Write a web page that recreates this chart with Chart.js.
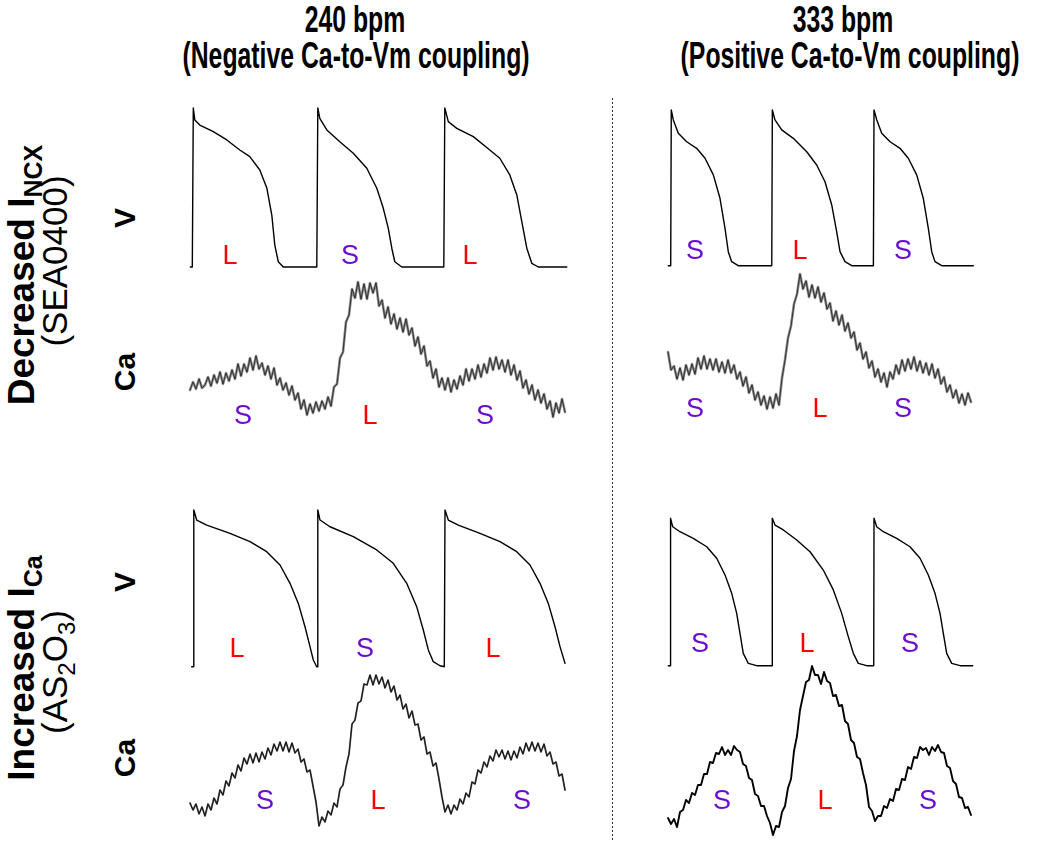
<!DOCTYPE html>
<html><head><meta charset="utf-8">
<script src="https://cdn.jsdelivr.net/npm/chart.js@4.4.1/dist/chart.umd.min.js"></script>
<style>
html,body{margin:0;padding:0;background:#fff;}
#fig{position:relative;width:1050px;height:841px;overflow:hidden;background:#fff;font-family:"Liberation Sans",Arial,Helvetica,sans-serif;color:#000;}
canvas{position:absolute;}
.t{position:absolute;white-space:nowrap;line-height:1;}
.title{font-weight:bold;font-size:37px;}
.row{font-weight:bold;font-size:37px;}
.row sub{font-size:25px;vertical-align:-8px;line-height:0;}
.rowsub{font-size:35px;}
.rowsub sub{font-size:24px;vertical-align:-8px;line-height:0;}
.axl{font-weight:bold;font-size:30px;}
.beat{font-size:27px;}
#sep{position:absolute;left:612px;top:98px;width:1px;height:743px;background-image:linear-gradient(#333 50%,rgba(0,0,0,0) 50%);background-size:1px 4px;}
</style></head><body><div id="fig"><div id="sep"></div></div>
<script>
// ---------------- DATA ----------------
// Membrane potential, [time (ms), % of AP amplitude]
const vTopLeft = [[-4,0],[0,0],[2,100],[5,92.5],[15,89.3],[42,85.1],[69,79.9],[95,73.6],[115,69.4],[135,61.0],[149,49.7],[159,32.7],[165,13.8],[172,3.3],[182,0],[249,0],[251,100],[255,93.5],[269,86.2],[295,78.8],[322,71.5],[349,62.1],[369,49.5],[382,36.9],[392,24.3],[399,11.8],[405,3.3],[419,0],[503,0],[505,100],[512,91.4],[529,87.2],[562,82.0],[595,73.6],[615,68.4],[635,57.9],[649,45.3],[659,28.5],[669,11.8],[679,2.3],[692,0],[749,0]];
const vTopRight = [[-4.3,0],[0,0],[1,100],[4.6,93.6],[13.5,85.0],[28.3,79.6],[46.0,75.4],[60.8,69.0],[75.5,58.3],[87.3,43.3],[96.2,24.0],[102,9.0],[108,2.6],[119.7,0],[179,0],[180,100],[184.7,93.6],[196.6,87.2],[217.2,81.8],[240.9,73.2],[258.6,64.7],[273.3,53.9],[285.2,39.0],[294.0,21.8],[299.9,9.0],[308.7,2.6],[320.6,0],[359,0],[360.1,100],[365.0,93.6],[373.7,85.0],[388.5,79.6],[406.2,75.4],[420.8,69.0],[435.7,58.3],[447.4,43.3],[456.3,24.0],[462.3,9.0],[468.1,2.6],[480.0,0],[536,0]];
const vBottomLeft = [[-3.2,0],[0,0],[1,100],[6.8,93.6],[26.8,90.4],[73.4,85.1],[113.4,79.8],[146.8,73.4],[173.4,64.9],[193.4,53.2],[210,40.4],[223.4,25.5],[233.4,12.8],[240,4.3],[246.8,0],[248,0],[249,100],[253.4,93.6],[273.4,89.3],[320,83.0],[366.8,74.5],[400,66.0],[426.8,53.2],[446.8,38.3],[460,23.4],[470,10.7],[480,3.2],[493.4,0.6],[502,0],[503.4,100],[510,93.6],[530,90.4],[573.4,85.1],[613.4,79.8],[646.8,73.4],[673.4,64.9],[693.4,53.2],[710,40.4],[723.4,25.5],[733.4,12.8],[743.4,2.2]];
const vBottomRight = [[-3,0],[0,0],[1,100],[4.8,94.3],[17.6,90.9],[41.1,86.4],[64.8,80.7],[82.4,72.9],[97.1,61.5],[108.9,49.1],[117.7,35.5],[123.5,22.0],[129.3,8.4],[138.2,1.6],[153.0,0],[180,0],[180.5,100],[185.3,95.4],[200,92.1],[223.6,85.3],[247.1,77.3],[270.5,64.9],[288.2,51.4],[303,35.5],[314.6,19.7],[323.5,8.4],[332.3,1.6],[347.1,0],[359.5,0],[360,100],[364.7,94.3],[376.4,90.9],[400,86.4],[423.5,80.7],[441.2,72.9],[455.8,61.5],[467.6,49.1],[476.5,35.5],[482.3,22.0],[488.3,8.4],[497.1,1.6],[511.8,0],[534.1,0]];

// Calcium fluorescence (a.u.), uniformly sampled
const caStartLeft = -4.6, caStepLeft = 6;      // ms (240 bpm recordings)
const caStartRight = -4.78, caStepRight = 5.3135; // ms (333 bpm recordings)
const caTopLeft = [40,48,41,51,42,45,53,44,55,47,58,46,57,49,60,51,66,54,66,58,72,60,74,61,67,55,64,51,62,45,52,40,47,35,44,30,37,21,30,15,26,17,28,19,29,21,33,24,43,46,72,78,108,115,141,132,148,131,146,131,147,137,147,124,130,112,123,106,116,101,112,98,111,95,102,84,93,76,84,64,69,52,61,43,52,40,52,38,50,41,54,45,61,49,61,51,65,53,66,57,72,60,73,61,70,58,70,55,65,50,59,42,50,36,45,30,40,27,36,21,29,13,27,17,31,18];
const caTopRight = [78,60,64,51,62,50,65,55,66,56,72,61,74,61,71,60,71,58,68,57,70,57,65,51,58,44,53,37,45,30,38,25,34,21,33,22,36,25,52,70,92,104,126,136,156,141,149,133,145,132,143,128,137,121,127,109,119,105,115,99,107,92,98,80,87,71,78,62,69,53,61,48,57,43,58,51,65,56,70,59,71,61,73,59,69,57,67,55,66,52,61,46,53,38,45,32,40,27,36,25,37,28];
const caBottomLeft = [37,30,36,26,33,24,36,30,42,36,50,45,59,54,67,62,75,69,82,76,86,77,87,78,88,81,92,85,96,89,98,89,98,88,97,87,91,78,81,68,70,54,38,14,23,18,29,25,37,33,51,55,73,86,116,120,137,139,156,155,165,155,165,156,163,152,160,148,154,140,145,131,136,122,129,115,116,100,103,86,88,74,77,61,43,28,35,26,35,30,41,36,47,43,58,56,70,67,78,73,84,79,90,83,90,81,89,80,89,82,93,86,97,89,98,89,97,88,96,84,88,76,78,64,66,50];
const caBottomRight = [22,16,21,13,28,30,40,37,47,45,55,55,66,66,78,77,87,86,93,85,90,85,94,90,88,76,74,62,60,46,44,34,34,24,17,5,14,13,28,34,52,61,89,104,130,144,158,160,174,165,165,156,168,159,157,144,145,134,135,119,116,100,97,83,81,67,55,33,29,19,24,24,34,32,41,39,51,50,61,60,73,71,83,82,93,90,92,85,93,89,95,88,87,74,72,59,56,43,42,32,33,25];

// Beat labels (long / short)
const beatsTopLeftV = ['L','S','L'];
const beatsTopLeftCa = ['S','L','S'];
const beatsTopRightV = ['S','L','S'];
const beatsTopRightCa = ['S','L','S'];
const beatsBottomLeftV = ['L','S','L'];
const beatsBottomLeftCa = ['S','L','S'];
const beatsBottomRightV = ['S','L','S'];
const beatsBottomRightCa = ['S','L','S'];

const colTitles = [['240 bpm','(Negative Ca-to-Vm coupling)'],['333 bpm','(Positive Ca-to-Vm coupling)']];

// ---------------- LAYOUT ----------------
const fig = document.getElementById('fig');
const toPts = arr => arr.map(p => ({x:p[0], y:p[1]}));
const sampled = (arr, t0, dt) => arr.map((v,i) => ({x:t0 + i*dt, y:v}));

function makeTrace(p, points, layers){
  const c = document.createElement('canvas');
  c.width = p.w; c.height = p.h;
  c.style.left = p.left + 'px'; c.style.top = p.top + 'px';
  c.style.width = p.w + 'px'; c.style.height = p.h + 'px';
  fig.appendChild(c);
  const xMin = (p.left - p.x0) / p.xs, xMax = (p.left + p.w - p.x0) / p.xs;
  const yMax = (p.y0 - p.top) / p.ys, yMin = (p.y0 - p.top - p.h) / p.ys;
  new Chart(c, {
    type:'line',
    data:{datasets:layers.map((l,i) => ({data:points, order:layers.length - i, borderColor:l.color, borderWidth:l.width, pointRadius:0, tension:0, fill:false, borderJoinStyle:'round', borderCapStyle:'round'}))},
    options:{responsive:false, animation:false, devicePixelRatio:1, events:[],
      layout:{padding:0},
      plugins:{legend:{display:false}, tooltip:{enabled:false}},
      scales:{x:{type:'linear', min:xMin, max:xMax, display:false},
              y:{type:'linear', min:yMin, max:yMax, display:false}}}
  });
}

const vStyle = [{color:'#000', width:1.4}];
const caTopStyle = [{color:'#8c8c8c', width:2.6}, {color:'#1e1e1e', width:0.8}];
makeTrace({left:185,top:100,w:390,h:175,x0:192.3,xs:0.5,y0:267,ys:1.59}, toPts(vTopLeft), vStyle);
makeTrace({left:660,top:100,w:325,h:175,x0:670.7,xs:0.5646,y0:265.7,ys:1.557}, toPts(vTopRight), vStyle);
makeTrace({left:185,top:262,w:390,h:175,x0:192.3,xs:0.5,y0:430,ys:1}, sampled(caTopLeft,caStartLeft,caStepLeft), caTopStyle);
makeTrace({left:660,top:262,w:325,h:175,x0:670.7,xs:0.5646,y0:430,ys:1}, sampled(caTopRight,caStartRight,caStepRight), caTopStyle);
makeTrace({left:185,top:500,w:390,h:175,x0:193.3,xs:0.5,y0:666.7,ys:1.567}, toPts(vBottomLeft), vStyle);
makeTrace({left:660,top:505,w:325,h:175,x0:670,xs:0.5667,y0:665.7,ys:1.474}, toPts(vBottomRight), vStyle);
makeTrace({left:185,top:650,w:390,h:191,x0:192.3,xs:0.5,y0:840,ys:1}, sampled(caBottomLeft,caStartLeft,caStepLeft), [{color:'#555', width:1.8},{color:'#111', width:0.9}]);
makeTrace({left:660,top:650,w:325,h:191,x0:670.7,xs:0.5646,y0:840,ys:1}, sampled(caBottomRight,caStartRight,caStepRight), [{color:'#000', width:1.9}]);

function addText(html, cls, cx, cy, rot, color){
  const d = document.createElement('div');
  d.className = 't ' + cls;
  d.innerHTML = html;
  d.style.left = cx + 'px'; d.style.top = cy + 'px';
  d.style.transform = 'translate(-50%,-50%)' + (rot ? ' rotate(' + rot + 'deg)' : '');
  if (color) d.style.color = color;
  fig.appendChild(d);
  return d;
}
function addTitle(txt, cx, cy){
  const d = addText(txt, 'title', cx, cy, 0);
  d.style.transform = 'translate(-50%,-50%) scaleX(0.67)';
}
addTitle(colTitles[0][0], 355, 19);
addTitle(colTitles[0][1], 356, 55);
addTitle(colTitles[1][0], 843, 19);
addTitle(colTitles[1][1], 850, 55);

addText('Decreased I<sub>NCX</sub>', 'row', 21, 275, -90);
addText('(SEA0400)', 'rowsub', 54, 261, -90);
addText('Increased I<sub>Ca</sub>', 'row', 21, 668, -90);
addText('(AS<sub>2</sub>O<sub>3</sub>)', 'rowsub', 54, 672, -90);

addText('V', 'axl', 125, 218, -90);
addText('Ca', 'axl', 125, 372, -90);
addText('V', 'axl', 125, 582, -90);
addText('Ca', 'axl', 125, 758, -90);

const beatColor = b => b === 'L' ? '#ff0000' : '#6a0dcf';
function addBeats(labels, xs, y){
  labels.forEach((b,i) => addText(b, 'beat', xs[i], y, 0, beatColor(b)));
}
addBeats(beatsTopLeftV, [230,350,470], 255);
addBeats(beatsTopLeftCa, [243,370,485], 415);
addBeats(beatsTopRightV, [695,800,903], 250);
addBeats(beatsTopRightCa, [695,820,903], 408);
addBeats(beatsBottomLeftV, [237,365,493], 648);
addBeats(beatsBottomLeftCa, [265,378,522], 800);
addBeats(beatsBottomRightV, [700,807,910], 643);
addBeats(beatsBottomRightCa, [722,825,928], 800);
</script></body></html>
